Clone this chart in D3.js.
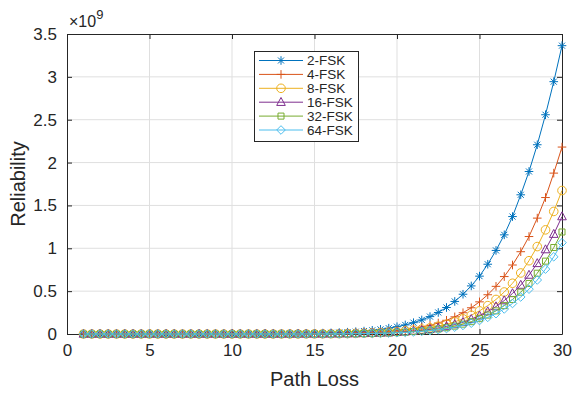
<!DOCTYPE html>
<html>
<head>
<meta charset="utf-8">
<title>Reliability vs Path Loss</title>
<script src="https://d3js.org/d3.v7.min.js"></script>
<style>
  body { margin: 0; background: #fff; }
  text { font-family: "Liberation Sans", Arial, Helvetica, sans-serif; fill: #262626; }
</style>
</head>
<body>
<script>
// x values (path loss)
var pathLoss = [1, 1.5, 2, 2.5, 3, 3.5, 4, 4.5, 5, 5.5,
  6, 6.5, 7, 7.5, 8, 8.5, 9, 9.5, 10, 10.5,
  11, 11.5, 12, 12.5, 13, 13.5, 14, 14.5, 15, 15.5,
  16, 16.5, 17, 17.5, 18, 18.5, 19, 19.5, 20, 20.5,
  21, 21.5, 22, 22.5, 23, 23.5, 24, 24.5, 25, 25.5,
  26, 26.5, 27, 27.5, 28, 28.5, 29, 29.5, 30];

// reliability, in units of 1e9
var fsk2 = [0.00000001, 0.00000003, 0.0000001, 0.0000004, 0.0000008, 0.0000015, 0.000003, 0.000005, 0.000008, 0.000013,
  0.00002, 0.00003, 0.00005, 0.00008, 0.00011, 0.00016, 0.00023, 0.00032, 0.00044, 0.0006,
  0.0008, 0.0011, 0.0015, 0.002, 0.0027, 0.0035, 0.0046, 0.006, 0.0078, 0.01,
  0.0129, 0.0165, 0.021, 0.027, 0.034, 0.043, 0.054, 0.068, 0.085, 0.106,
  0.132, 0.164, 0.203, 0.251, 0.309, 0.38, 0.464, 0.561, 0.675, 0.814,
  0.975, 1.157, 1.37, 1.624, 1.896, 2.208, 2.558, 2.944, 3.364];
var fsk4 = [0.000000003, 0.00000001, 0.00000003, 0.00000007, 0.00000015, 0.0000003, 0.0000005, 0.0000009, 0.0000015, 0.0000025,
  0.000004, 0.000006, 0.00001, 0.000015, 0.000023, 0.000034, 0.00005, 0.00007, 0.0001, 0.00014,
  0.0002, 0.00028, 0.00039, 0.00054, 0.00074, 0.001, 0.0014, 0.0019, 0.0025, 0.0034,
  0.0045, 0.006, 0.0079, 0.0104, 0.0136, 0.0178, 0.023, 0.03, 0.039, 0.05,
  0.064, 0.081, 0.102, 0.128, 0.16, 0.2, 0.248, 0.306, 0.375, 0.458,
  0.556, 0.67, 0.805, 0.96, 1.137, 1.352, 1.592, 1.877, 2.181];
var fsk8 = [0.000000001, 0.000000003, 0.00000001, 0.00000002, 0.00000005, 0.0000001, 0.0000002, 0.00000035, 0.0000006, 0.000001,
  0.0000017, 0.0000028, 0.0000045, 0.000007, 0.000011, 0.000017, 0.000026, 0.000038, 0.000055, 0.00008,
  0.00011, 0.00016, 0.00023, 0.00032, 0.00045, 0.00063, 0.00087, 0.0012, 0.0016, 0.0022,
  0.003, 0.004, 0.0054, 0.0071, 0.0094, 0.0124, 0.0162, 0.021, 0.0272, 0.035,
  0.045, 0.057, 0.072, 0.091, 0.114, 0.142, 0.177, 0.219, 0.27, 0.331,
  0.403, 0.49, 0.592, 0.712, 0.855, 1.02, 1.215, 1.43, 1.674];
var fsk16 = [0.0000000005, 0.000000002, 0.000000005, 0.000000012, 0.00000003, 0.00000006, 0.00000012, 0.00000022, 0.00000038, 0.00000065,
  0.0000011, 0.0000018, 0.0000029, 0.0000046, 0.0000072, 0.000011, 0.000017, 0.000025, 0.000036, 0.000053,
  0.000076, 0.00011, 0.00016, 0.00022, 0.00032, 0.00044, 0.00062, 0.00085, 0.0012, 0.0016,
  0.0022, 0.0029, 0.004, 0.0053, 0.007, 0.0092, 0.0121, 0.0158, 0.0206, 0.0266,
  0.0343, 0.0437, 0.0554, 0.0703, 0.0883, 0.111, 0.138, 0.172, 0.213, 0.262,
  0.32, 0.39, 0.473, 0.571, 0.688, 0.824, 0.985, 1.165, 1.37];
var fsk32 = [0.0000000003, 0.000000001, 0.000000003, 0.000000007, 0.00000002, 0.00000004, 0.00000007, 0.00000013, 0.00000024, 0.0000004,
  0.0000007, 0.0000012, 0.0000019, 0.000003, 0.0000048, 0.0000075, 0.000011, 0.000017, 0.000025, 0.000037,
  0.000053, 0.000078, 0.00011, 0.00016, 0.00023, 0.00033, 0.00046, 0.00064, 0.0009, 0.0012,
  0.0017, 0.0023, 0.0031, 0.0042, 0.0056, 0.0074, 0.0097, 0.0128, 0.0167, 0.0216,
  0.028, 0.0358, 0.0455, 0.0579, 0.073, 0.0921, 0.115, 0.144, 0.179, 0.221,
  0.27, 0.331, 0.403, 0.488, 0.59, 0.709, 0.85, 1.009, 1.19];
var fsk64 = [0.0000000002, 0.0000000008, 0.000000002, 0.000000006, 0.000000015, 0.00000003, 0.00000005, 0.0000001, 0.00000019, 0.00000032,
  0.00000055, 0.0000009, 0.0000015, 0.0000024, 0.0000038, 0.0000059, 0.0000088, 0.000014, 0.00002, 0.00003,
  0.000043, 0.000063, 0.00009, 0.00013, 0.00019, 0.00027, 0.00037, 0.00052, 0.00074, 0.001,
  0.0014, 0.0019, 0.0026, 0.0035, 0.0047, 0.0063, 0.0083, 0.0109, 0.0143, 0.0185,
  0.0241, 0.0308, 0.0393, 0.0501, 0.0633, 0.08, 0.1, 0.126, 0.157, 0.194,
  0.237, 0.292, 0.356, 0.432, 0.523, 0.63, 0.757, 0.901, 1.065];

var seriesNames = ["2-FSK", "4-FSK", "8-FSK", "16-FSK", "32-FSK", "64-FSK"];
var seriesValues = [fsk2, fsk4, fsk8, fsk16, fsk32, fsk64];
var seriesColors = ["#0072BD", "#D95319", "#EDB120", "#7E2F8E", "#77AC30", "#4DBEEE"];
var seriesMarkers = ["asterisk", "plus", "circle", "triangle", "square", "diamond"];

var xTicks = [0, 5, 10, 15, 20, 25, 30];
var yTicks = [0, 0.5, 1, 1.5, 2, 2.5, 3, 3.5];

var w = 579, h = 394;
var margin = {top: 34, right: 17, bottom: 60, left: 67};
var axisColor = "#262626";

var svg = d3.select("body").append("svg")
  .attr("width", w)
  .attr("height", h);

var x = d3.scaleLinear().domain([0, 30]).range([margin.left, w - margin.right]);
var y = d3.scaleLinear().domain([0, 3.5]).range([h - margin.bottom, margin.top]);

// grid
svg.append("g").selectAll("line.gx")
  .data(xTicks.slice(1, -1)).enter().append("line")
  .attr("x1", function(d) { return x(d); })
  .attr("x2", function(d) { return x(d); })
  .attr("y1", y(0)).attr("y2", y(3.5))
  .attr("stroke", "#dfdfdf").attr("stroke-width", 1);
svg.append("g").selectAll("line.gy")
  .data(yTicks.slice(1, -1)).enter().append("line")
  .attr("y1", function(d) { return y(d); })
  .attr("y2", function(d) { return y(d); })
  .attr("x1", x(0)).attr("x2", x(30))
  .attr("stroke", "#dfdfdf").attr("stroke-width", 1);

// axes (inward ticks on all four sides, like a boxed matlab plot)
function styleAxis(g, showText) {
  g.select(".domain").attr("stroke", axisColor);
  g.selectAll(".tick line").attr("stroke", axisColor);
  g.selectAll(".tick text")
    .style("font-size", "17px")
    .attr("fill", axisColor)
    .style("display", showText ? null : "none");
}

svg.append("g")
  .attr("transform", "translate(0," + y(0) + ")")
  .call(d3.axisBottom(x).tickValues(xTicks).tickSizeInner(-5).tickSizeOuter(0).tickPadding(10))
  .call(function(g) { styleAxis(g, true); });
svg.append("g")
  .attr("transform", "translate(0," + y(3.5) + ")")
  .call(d3.axisTop(x).tickValues(xTicks).tickSizeInner(-5).tickSizeOuter(0))
  .call(function(g) { styleAxis(g, false); });
svg.append("g")
  .attr("transform", "translate(" + x(0) + ",0)")
  .call(d3.axisLeft(y).tickValues(yTicks).tickSizeInner(-5).tickSizeOuter(0).tickPadding(10)
    .tickFormat(function(d) { return d; }))
  .call(function(g) { styleAxis(g, true); });
svg.append("g")
  .attr("transform", "translate(" + x(30) + ",0)")
  .call(d3.axisRight(y).tickValues(yTicks).tickSizeInner(-5).tickSizeOuter(0))
  .call(function(g) { styleAxis(g, false); });

// exponent label
var expo = svg.append("text")
  .attr("x", x(0) + 2).attr("y", 27)
  .style("font-size", "16px");
expo.append("tspan").text("\u00d710");
expo.append("tspan").attr("dy", -8).style("font-size", "13px").text("9");

// axis titles
svg.append("text")
  .attr("x", (x(0) + x(30)) / 2).attr("y", 386)
  .attr("text-anchor", "middle")
  .style("font-size", "20px")
  .text("Path Loss");
svg.append("text")
  .attr("transform", "translate(25," + (y(0) + y(3.5)) / 2 + ") rotate(-90)")
  .attr("text-anchor", "middle")
  .style("font-size", "20px")
  .text("Reliability");

// markers
function markerPath(type, s) {
  var d = 0.7 * s;
  switch (type) {
    case "asterisk":
      return "M" + (-s) + ",0H" + s + "M0," + (-s) + "V" + s +
        "M" + (-d) + "," + (-d) + "L" + d + "," + d + "M" + (-d) + "," + d + "L" + d + "," + (-d);
    case "plus":
      return "M" + (-s) + ",0H" + s + "M0," + (-s) + "V" + s;
    case "circle":
      return "M" + s + ",0A" + s + "," + s + " 0 1,1 " + (-s) + ",0A" + s + "," + s + " 0 1,1 " + s + ",0Z";
    case "triangle":
      return "M0," + (-1.1 * s) + "L" + s + "," + (0.75 * s) + "L" + (-s) + "," + (0.75 * s) + "Z";
    case "square":
      return "M" + (-d) + "," + (-d) + "H" + d + "V" + d + "H" + (-d) + "Z";
    case "diamond":
      return "M0," + (-s) + "L" + s + ",0L0," + s + "L" + (-s) + ",0Z";
  }
}

var line = d3.line()
  .x(function(d) { return x(d[0]); })
  .y(function(d) { return y(d[1]); });

seriesValues.forEach(function(vals, k) {
  var pts = pathLoss.map(function(p, i) { return [p, vals[i]]; });
  var g = svg.append("g");
  g.append("path")
    .datum(pts)
    .attr("d", line)
    .attr("fill", "none")
    .attr("stroke", seriesColors[k])
    .attr("stroke-width", 1);
  g.selectAll("path.m")
    .data(pts).enter().append("path")
    .attr("class", "m")
    .attr("transform", function(d) { return "translate(" + x(d[0]) + "," + y(d[1]) + ")"; })
    .attr("d", markerPath(seriesMarkers[k], 4.3))
    .attr("fill", "none")
    .attr("stroke", seriesColors[k])
    .attr("stroke-width", 1);
});

// legend
var lg = svg.append("g");
lg.append("rect")
  .attr("x", 254.5).attr("y", 51.5)
  .attr("width", 104).attr("height", 90)
  .attr("fill", "#fff")
  .attr("stroke", axisColor)
  .attr("stroke-width", 1);
seriesNames.forEach(function(name, k) {
  var ly = 60.5 + k * 13.9;
  lg.append("line")
    .attr("x1", 259).attr("x2", 303)
    .attr("y1", ly).attr("y2", ly)
    .attr("stroke", seriesColors[k]).attr("stroke-width", 1);
  lg.append("path")
    .attr("transform", "translate(281," + ly + ")")
    .attr("d", markerPath(seriesMarkers[k], 4.3))
    .attr("fill", "none")
    .attr("stroke", seriesColors[k]).attr("stroke-width", 1);
  lg.append("text")
    .attr("x", 307).attr("y", ly + 4.5)
    .style("font-size", "13.5px")
    .text(name);
});
</script>
</body>
</html>
